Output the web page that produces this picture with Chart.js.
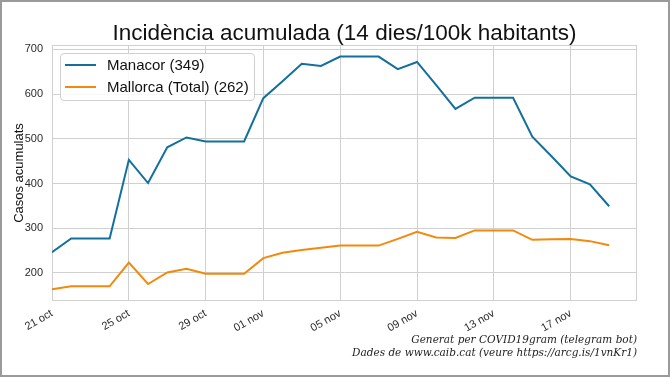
<!DOCTYPE html>
<html>
<head>
<meta charset="utf-8">
<script src="https://cdn.jsdelivr.net/npm/chart.js@4.4.1/dist/chart.umd.min.js"></script>
<style>
  html, body { margin:0; padding:0; background:#fff; }
  #wrap { position:relative; width:670px; height:377px; overflow:hidden; }
  #frame { position:absolute; left:0; top:0; width:670px; height:377px; box-sizing:border-box; border:2px solid #9a9a9a; pointer-events:none; }
  #title { position:absolute; left:52px; width:585px; top:20px; text-align:center; font-family:'Liberation Sans', Arial, sans-serif; font-size:22.5px; line-height:26px; color:#111; white-space:nowrap; }
  #legend { position:absolute; left:60px; top:53px; width:195px; height:48px; box-sizing:border-box; border:1px solid #d0d0d0; border-radius:4px; background:rgba(255,255,255,0.85); font-family:'Liberation Sans', Arial, sans-serif; font-size:15px; color:#111; }
  #legend .item { position:absolute; left:4px; height:18px; line-height:18px; white-space:nowrap; }
  #legend .sw { display:inline-block; width:31px; height:0; border-top:2px solid; vertical-align:middle; margin-right:11px; position:relative; top:-1px; }
  .foot { position:absolute; right:33px; font-family:'DejaVu Serif', serif; font-style:italic; font-size:10.5px; color:#222; white-space:nowrap; }
</style>
</head>
<body>
<div id="wrap">
  <canvas id="chart" width="670" height="377"></canvas>
  <div id="title">Incidència acumulada (14 dies/100k habitants)</div>
  <div id="legend"></div>
  <div class="foot" style="top:333px">Generat per COVID19gram (telegram bot)</div>
  <div class="foot" style="top:346px">Dades de www.caib.cat (veure https://arcg.is/1vnKr1)</div>
  <div id="frame"></div>
</div>
<script>
(function(){
  // dies (eix x)
  const dates = ['21 oct','22 oct','23 oct','24 oct','25 oct','26 oct','27 oct','28 oct','29 oct','30 oct','31 oct',
                 '01 nov','02 nov','03 nov','04 nov','05 nov','06 nov','07 nov','08 nov','09 nov','10 nov',
                 '11 nov','12 nov','13 nov','14 nov','15 nov','16 nov','17 nov','18 nov','19 nov'];
  const xTickLabels = ['21 oct','25 oct','29 oct','01 nov','05 nov','09 nov','13 nov','17 nov'];
  const yTicks = [200, 300, 400, 500, 600, 700];

  const manacor = [246,277,277,277,453,401,481,503,494,494,494,591,629,668,663,684,684,684,656,672,620,567,592,592,592,505,461,416,398,349];
  const mallorca = [163,170,170,170,223,175,201,209,198,198,198,233,245,251,256,261,261,261,276,292,279,278,295,295,295,274,275,276,271,262];

  const seriesNames = ['Manacor', 'Mallorca (Total)'];
  const colors = ['#13709b', '#f2890d'];

  const FONT = "'Liberation Sans', Arial, sans-serif";
  const gridColor = '#d0d0d0';
  const textColor = '#2a2a2a';

  function toPoints(arr){ return arr.map((v,i)=>({ x:i, y:v })); }

  const datasets = [manacor, mallorca].map((arr, k)=>({
    label: seriesNames[k] + ' (' + arr[arr.length-1] + ')',
    data: toPoints(arr),
    borderColor: colors[k],
    backgroundColor: colors[k],
    borderWidth: 2,
    pointRadius: 0,
    tension: 0
  }));

  // marc de l'àrea del gràfic
  const areaBorder = {
    id: 'areaBorder',
    beforeDatasetsDraw(chart){
      const a = chart.chartArea, ctx = chart.ctx;
      ctx.save();
      ctx.strokeStyle = gridColor; ctx.lineWidth = 1;
      ctx.strokeRect(a.left + 0.5, a.top + 0.5, a.right - a.left - 1, a.bottom - a.top - 1);
      ctx.restore();
    }
  };

  new Chart(document.getElementById('chart').getContext('2d'), {
    type: 'line',
    data: { datasets },
    plugins: [areaBorder],
    options: {
      responsive: false,
      animation: false,
      devicePixelRatio: 1,
      layout: { padding: { left: 0, right: 33, top: 45, bottom: 0 } },
      plugins: {
        legend: { display: false },
        tooltip: { enabled: false },
        title: { display: false }
      },
      scales: {
        x: {
          type: 'linear',
          min: 0,
          max: dates.length - 1 + 1.45,
          afterBuildTicks: (s)=>{ s.ticks = xTickLabels.map(l=>({ value: dates.indexOf(l) })); },
          afterFit: (s)=>{ s.height = 76; },
          ticks: {
            color: textColor,
            font: { family: FONT, size: 11 },
            minRotation: 30, maxRotation: 30,
            padding: 6,
            callback: (v)=> dates[v]
          },
          grid: { color: gridColor, lineWidth: 1, drawTicks: false },
          border: { display: false }
        },
        y: {
          min: 137, max: 710,
          afterBuildTicks: (s)=>{ s.ticks = yTicks.map(v=>({ value: v })); },
          afterFit: (s)=>{ s.width = 52; },
          ticks: { color: textColor, font: { family: FONT, size: 11 }, padding: 9 },
          grid: { color: gridColor, lineWidth: 1, drawTicks: false },
          border: { display: false },
          title: {
            display: true,
            text: 'Casos acumulats',
            color: '#111',
            font: { family: FONT, size: 13 },
            padding: { top: 12, bottom: 0 }
          }
        }
      }
    }
  });

  // llegenda
  const leg = document.getElementById('legend');
  datasets.forEach((d, i)=>{
    const it = document.createElement('div');
    it.className = 'item';
    it.style.top = (i === 0 ? 2 : 24) + 'px';
    const sw = document.createElement('span');
    sw.className = 'sw'; sw.style.borderTopColor = d.borderColor;
    it.appendChild(sw);
    it.appendChild(document.createTextNode(d.label));
    leg.appendChild(it);
  });
})();
</script>
</body>
</html>
